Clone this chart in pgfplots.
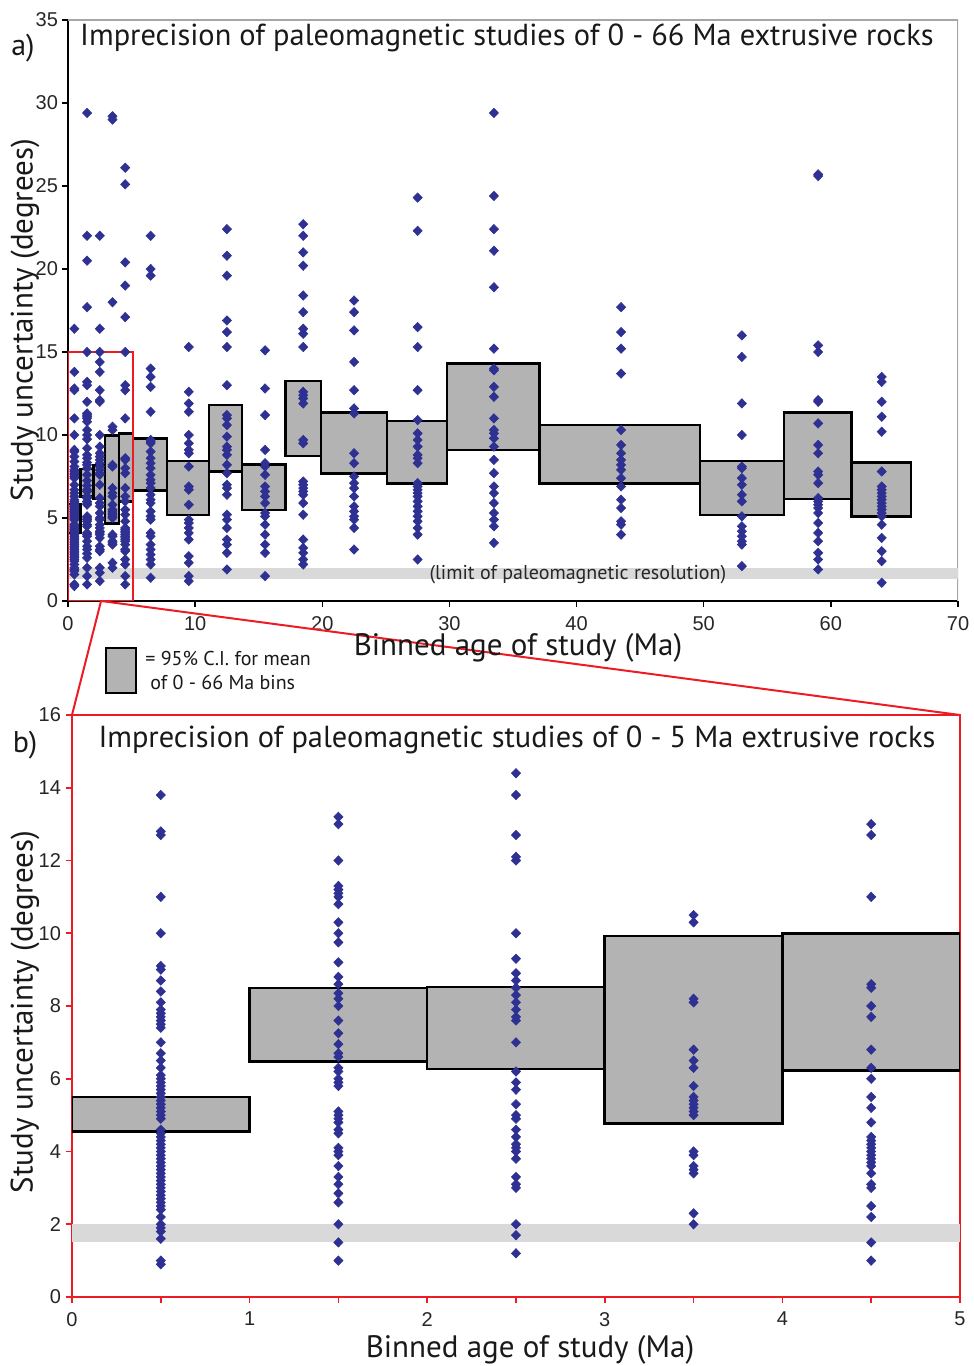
\documentclass[border=0pt]{standalone}
\usepackage{pgfplots}
\pgfplotsset{compat=1.18}
\usepackage{pgfplotstable}
\usepackage{fontspec}
\setmainfont{PT Sans}
\newfontfamily\tickfont{Liberation Sans}
\definecolor{dblue}{HTML}{2E3192}
\definecolor{ared}{HTML}{ED1C24}
\definecolor{boxgray}{HTML}{B3B3B3}
\definecolor{bandgray}{HTML}{D9D9D9}

% 0-5 Ma columns (shown in both panels)
\pgfplotstableread[row sep=\\]{y\\13.8\\12.8\\12.7\\11.0\\10.0\\9.1\\9.0\\8.7\\8.4\\8.1\\7.9\\7.8\\7.7\\7.6\\7.5\\7.4\\7.0\\6.7\\6.5\\6.3\\6.1\\6.0\\5.9\\5.8\\5.7\\5.6\\5.5\\5.4\\5.3\\5.2\\5.1\\5.0\\4.9\\4.6\\4.5\\4.4\\4.3\\4.2\\4.1\\4.0\\3.9\\3.8\\3.7\\3.6\\3.5\\3.4\\3.3\\3.2\\3.1\\3.0\\2.9\\2.8\\2.7\\2.6\\2.5\\2.4\\2.2\\2.0\\1.9\\1.8\\1.6\\1.0\\0.9\\}\lowA
\pgfplotstableread[row sep=\\]{y\\13.2\\13.0\\12.0\\11.3\\11.2\\11.1\\11.0\\10.8\\10.3\\10.0\\9.75\\9.2\\8.8\\8.6\\8.35\\8.2\\8.0\\7.6\\7.25\\6.95\\6.7\\6.6\\6.3\\6.2\\6.0\\5.9\\5.8\\5.1\\5.0\\4.9\\4.8\\4.6\\4.5\\4.1\\4.0\\3.9\\3.6\\3.3\\3.1\\2.85\\2.6\\2.0\\1.5\\1.0\\}\lowB
\pgfplotstableread[row sep=\\]{y\\14.4\\13.8\\12.7\\12.1\\12.0\\10.0\\9.3\\8.9\\8.7\\8.5\\8.3\\8.1\\7.9\\7.7\\7.6\\7.0\\6.2\\5.9\\5.7\\5.3\\5.0\\4.9\\4.6\\4.4\\4.2\\4.1\\4.0\\3.8\\3.3\\3.1\\3.0\\2.0\\1.7\\1.2\\}\lowC
\pgfplotstableread[row sep=\\]{y\\10.5\\10.3\\8.2\\8.1\\6.8\\6.5\\6.3\\5.8\\5.5\\5.4\\5.3\\5.2\\5.1\\5.0\\4.0\\3.9\\3.6\\3.5\\3.4\\2.3\\2.0\\}\lowD
\pgfplotstableread[row sep=\\]{y\\13.0\\12.7\\11.0\\8.6\\8.5\\8.0\\7.7\\6.8\\6.3\\6.0\\5.5\\5.2\\4.8\\4.4\\4.3\\4.2\\4.1\\4.0\\3.9\\3.8\\3.7\\3.6\\3.4\\3.1\\3.0\\2.5\\2.2\\1.5\\1.0\\}\lowE
% higher values of the 0-5 Ma columns (top panel only)
\pgfplotstableread[row sep=\\]{y\\16.4\\}\hiA
\pgfplotstableread[row sep=\\]{y\\29.4\\22.0\\20.5\\17.7\\15.0\\}\hiB
\pgfplotstableread[row sep=\\]{y\\22.0\\16.4\\15.0\\}\hiC
\pgfplotstableread[row sep=\\]{y\\29.2\\29.0\\18.0\\}\hiD
\pgfplotstableread[row sep=\\]{y\\26.1\\25.1\\20.4\\19.0\\17.1\\15.0\\}\hiE
% older bins (top panel only)
\pgfplotstableread[row sep=\\]{y\\22.0\\20.0\\19.6\\14.0\\13.5\\12.9\\11.4\\9.7\\9.6\\9.5\\9.0\\8.6\\8.3\\8.0\\7.6\\7.3\\7.1\\6.8\\6.4\\6.1\\5.9\\5.4\\5.1\\4.9\\4.1\\3.9\\3.4\\3.1\\2.8\\2.5\\2.2\\1.4\\}\cF
\pgfplotstableread[row sep=\\]{y\\15.3\\12.6\\11.9\\11.4\\10.0\\9.5\\9.1\\8.9\\8.1\\6.9\\6.7\\5.8\\4.9\\4.7\\4.4\\4.1\\3.7\\2.7\\2.3\\1.5\\1.2\\}\cG
\pgfplotstableread[row sep=\\]{y\\22.4\\20.8\\19.6\\16.9\\16.2\\15.3\\13.0\\11.2\\11.0\\10.6\\9.9\\9.3\\9.1\\8.8\\8.2\\7.7\\7.0\\6.8\\6.4\\5.2\\4.9\\4.4\\3.7\\3.4\\2.9\\1.9\\}\cH
\pgfplotstableread[row sep=\\]{y\\15.1\\12.8\\11.2\\9.1\\8.3\\8.1\\7.6\\6.9\\6.6\\6.3\\5.9\\5.3\\5.1\\4.6\\4.0\\3.4\\2.9\\1.5\\}\cI
\pgfplotstableread[row sep=\\]{y\\22.7\\22.0\\21.0\\20.2\\18.4\\17.4\\16.4\\16.1\\15.3\\12.6\\12.4\\12.2\\11.9\\9.7\\9.5\\7.2\\7.0\\6.8\\6.6\\6.4\\5.9\\5.2\\3.7\\3.2\\2.9\\2.5\\2.2\\}\cJ
\pgfplotstableread[row sep=\\]{y\\18.1\\17.4\\16.3\\14.4\\12.7\\11.6\\11.3\\8.9\\8.3\\7.5\\7.1\\6.8\\6.3\\5.7\\5.4\\5.1\\4.9\\4.4\\3.1\\}\cK
\pgfplotstableread[row sep=\\]{y\\24.3\\22.3\\16.5\\15.3\\12.7\\10.9\\10.1\\9.7\\9.3\\8.8\\8.6\\8.3\\7.1\\6.9\\6.7\\6.5\\6.3\\6.0\\5.7\\5.4\\5.1\\4.8\\4.4\\4.0\\2.5\\}\cL
\pgfplotstableread[row sep=\\]{y\\29.4\\24.4\\22.4\\21.1\\18.9\\15.2\\14.0\\13.9\\12.9\\12.3\\11.0\\10.3\\10.1\\9.8\\9.3\\8.5\\7.7\\6.9\\6.5\\5.9\\5.3\\4.9\\4.5\\3.5\\}\cM
\pgfplotstableread[row sep=\\]{y\\17.7\\16.2\\15.2\\13.7\\10.3\\9.4\\8.9\\8.5\\8.2\\7.9\\7.4\\6.9\\6.1\\5.6\\4.8\\4.6\\4.0\\}\cN
\pgfplotstableread[row sep=\\]{y\\16.0\\14.7\\11.9\\10.0\\8.1\\8.0\\7.4\\7.0\\6.4\\6.0\\5.1\\4.5\\4.2\\3.9\\3.6\\3.4\\2.1\\}\cO
\pgfplotstableread[row sep=\\]{y\\25.7\\25.6\\15.4\\15.0\\12.1\\12.0\\10.7\\9.4\\8.9\\7.8\\7.6\\7.1\\6.2\\6.0\\5.8\\5.6\\5.3\\4.7\\4.1\\3.6\\2.9\\2.5\\1.9\\}\cP
\pgfplotstableread[row sep=\\]{y\\13.5\\13.2\\12.0\\11.1\\10.2\\7.8\\6.9\\6.7\\6.5\\6.3\\6.1\\5.9\\5.7\\5.5\\5.3\\5.1\\4.6\\3.8\\3.0\\2.4\\1.1\\}\cQ

\pgfplotsset{
  pts/.style={only marks, mark=diamond*, mark size=2.35pt,
    mark options={draw=dblue, fill=dblue, line width=0.3pt, xscale=1.3}},
  cibox/.style={draw=black, fill=boxgray, line width=1.3pt},
  band/.style={draw=none, fill=bandgray},
}

\begin{document}
\begin{tikzpicture}
\path[use as bounding box] (0,0) rectangle (487pt,683pt);

% ---------------- top panel ----------------
\begin{axis}[
  at={(34pt,382.5pt)}, anchor=south west, scale only axis,
  width=445pt, height=290.5pt,
  xmin=0, xmax=70, ymin=0, ymax=35,
  xtick={0,10,...,70}, ytick={0,5,...,35},
  axis x line*=bottom, axis y line*=left,
  axis line style={-, black, line width=0.8pt},
  tick align=outside, major tick length=3pt,
  tick style={black, line width=0.7pt},
  ticklabel style={font=\tickfont\fontsize{10}{11}\selectfont, text=black!85},
  /pgf/number format/assume math mode=true,
  xticklabel style={yshift=-1pt},
  yticklabel style={xshift=1.5pt},
]
\draw[gray!70, line width=0.7pt] (rel axis cs:0,1) -- (rel axis cs:1,1) -- (rel axis cs:1,0);
\addplot[band] coordinates {(0,1.3) (70,1.3) (70,2.0) (0,2.0)} -- cycle;
\node[font=\fontsize{10}{11}\selectfont, text=black!85] at (axis cs:40.1,1.6) {(limit of paleomagnetic resolution)};
\addplot[cibox] coordinates {(0,4.1) (1,4.1) (1,5.85) (0,5.85)} -- cycle;
\addplot[cibox] coordinates {(1,6.28) (2,6.28) (2,7.95) (1,7.95)} -- cycle;
\addplot[cibox] coordinates {(2,6.19) (2.9,6.19) (2.9,8.15) (2,8.15)} -- cycle;
\addplot[cibox] coordinates {(2.9,4.68) (4,4.68) (4,9.96) (2.9,9.96)} -- cycle;
\addplot[cibox] coordinates {(4,6.0) (5.1,6.0) (5.1,10.1) (4,10.1)} -- cycle;
\addplot[cibox] coordinates {(5.1,6.65) (7.8,6.65) (7.8,9.8) (5.1,9.8)} -- cycle;
\addplot[cibox] coordinates {(7.8,5.18) (11.1,5.18) (11.1,8.43) (7.8,8.43)} -- cycle;
\addplot[cibox] coordinates {(11.1,7.79) (13.7,7.79) (13.7,11.81) (11.1,11.81)} -- cycle;
\addplot[cibox] coordinates {(13.7,5.48) (17.1,5.48) (17.1,8.23) (13.7,8.23)} -- cycle;
\addplot[cibox] coordinates {(17.1,8.73) (19.9,8.73) (19.9,13.25) (17.1,13.25)} -- cycle;
\addplot[cibox] coordinates {(19.9,7.69) (25.1,7.69) (25.1,11.37) (19.9,11.37)} -- cycle;
\addplot[cibox] coordinates {(25.1,7.09) (29.8,7.09) (29.8,10.84) (25.1,10.84)} -- cycle;
\addplot[cibox] coordinates {(29.8,9.1) (37.1,9.1) (37.1,14.32) (29.8,14.32)} -- cycle;
\addplot[cibox] coordinates {(37.1,7.09) (49.7,7.09) (49.7,10.6) (37.1,10.6)} -- cycle;
\addplot[cibox] coordinates {(49.7,5.18) (56.3,5.18) (56.3,8.43) (49.7,8.43)} -- cycle;
\addplot[cibox] coordinates {(56.3,6.14) (61.6,6.14) (61.6,11.37) (56.3,11.37)} -- cycle;
\addplot[cibox] coordinates {(61.6,5.08) (66.3,5.08) (66.3,8.33) (61.6,8.33)} -- cycle;
\addplot[pts] table[x expr=0.5, y=y] {\lowA};
\addplot[pts] table[x expr=1.5, y=y] {\lowB};
\addplot[pts] table[x expr=2.5, y=y] {\lowC};
\addplot[pts] table[x expr=3.5, y=y] {\lowD};
\addplot[pts] table[x expr=4.5, y=y] {\lowE};
\addplot[pts] table[x expr=0.5, y=y] {\hiA};
\addplot[pts] table[x expr=1.5, y=y] {\hiB};
\addplot[pts] table[x expr=2.5, y=y] {\hiC};
\addplot[pts] table[x expr=3.5, y=y] {\hiD};
\addplot[pts] table[x expr=4.5, y=y] {\hiE};
\addplot[pts] table[x expr=6.5, y=y] {\cF};
\addplot[pts] table[x expr=9.5, y=y] {\cG};
\addplot[pts] table[x expr=12.5, y=y] {\cH};
\addplot[pts] table[x expr=15.5, y=y] {\cI};
\addplot[pts] table[x expr=18.5, y=y] {\cJ};
\addplot[pts] table[x expr=22.5, y=y] {\cK};
\addplot[pts] table[x expr=27.5, y=y] {\cL};
\addplot[pts] table[x expr=33.5, y=y] {\cM};
\addplot[pts] table[x expr=43.5, y=y] {\cN};
\addplot[pts] table[x expr=53.0, y=y] {\cO};
\addplot[pts] table[x expr=59.0, y=y] {\cP};
\addplot[pts] table[x expr=64.0, y=y] {\cQ};
\draw[ared, line width=1pt] (axis cs:0,0) rectangle (axis cs:5.1,15);
\coordinate (zsrc) at (axis cs:2.6,0);
\end{axis}

% ---------------- bottom panel ----------------
\begin{axis}[
  at={(36pt,34.5pt)}, anchor=south west, scale only axis,
  width=444pt, height=291pt,
  xmin=0, xmax=5, ymin=0, ymax=16,
  xtick={0,1,...,5}, minor x tick num=1, ytick={0,2,...,16},
  axis line style={ared, line width=1pt},
  tick align=outside, major tick length=3pt, minor tick length=3pt,
  every tick/.style={ared, line width=0.8pt},
  xtick pos=bottom, ytick pos=left,
  ticklabel style={font=\tickfont\fontsize{10}{11}\selectfont, text=black!85},
  /pgf/number format/assume math mode=true,
  xticklabel style={yshift=-1pt},
  yticklabel style={xshift=1pt},
]
\addplot[band] coordinates {(0,1.5) (5,1.5) (5,2.0) (0,2.0)} -- cycle;
\addplot[cibox] coordinates {(0,4.55) (1,4.55) (1,5.5) (0,5.5)} -- cycle;
\addplot[cibox] coordinates {(1,6.47) (2,6.47) (2,8.49) (1,8.49)} -- cycle;
\addplot[cibox] coordinates {(2,6.27) (3,6.27) (3,8.52) (2,8.52)} -- cycle;
\addplot[cibox] coordinates {(3,4.77) (4,4.77) (4,9.92) (3,9.92)} -- cycle;
\addplot[cibox] coordinates {(4,6.22) (5,6.22) (5,10.0) (4,10.0)} -- cycle;
\addplot[pts] table[x expr=0.5, y=y] {\lowA};
\addplot[pts] table[x expr=1.5, y=y] {\lowB};
\addplot[pts] table[x expr=2.5, y=y] {\lowC};
\addplot[pts] table[x expr=3.5, y=y] {\lowD};
\addplot[pts] table[x expr=4.5, y=y] {\lowE};
\coordinate (bnw) at (rel axis cs:0,1);
\coordinate (bne) at (rel axis cs:1,1);
\end{axis}

\draw[ared, line width=1pt] (zsrc) -- (bnw);
\draw[ared, line width=1pt] (zsrc) -- (bne);

% texts
\node[font=\fontsize{15.2}{17}\selectfont, text=black!90] at (253.5pt,664pt) {Imprecision of paleomagnetic studies of 0 - 66 Ma extrusive rocks};
\node[font=\fontsize{15.2}{17}\selectfont, text=black!90] at (258.5pt,313pt) {Imprecision of paleomagnetic studies of 0 - 5 Ma extrusive rocks};
\node[font=\fontsize{15.5}{17}\selectfont, text=black!90] at (259pt,359pt) {Binned age of study (Ma)};
\node[font=\fontsize{15.5}{17}\selectfont, text=black!90] at (265pt,8pt) {Binned age of study (Ma)};
\node[font=\fontsize{15.5}{17}\selectfont, text=black!90, rotate=90] at (12.5pt,523pt) {Study uncertainty (degrees)};
\node[font=\fontsize{15.5}{17}\selectfont, text=black!90, rotate=90] at (12.5pt,177pt) {Study uncertainty (degrees)};
\node[font=\fontsize{15}{17}\selectfont, text=black!90] at (11.5pt,659pt) {a)};
\node[font=\fontsize{15}{17}\selectfont, text=black!90] at (12.5pt,310.5pt) {b)};
% legend
\draw[line width=1.3pt, fill=boxgray] (53pt,336.5pt) rectangle (68pt,359pt);
\node[anchor=west, font=\fontsize{10}{11}\selectfont, text=black!90, inner sep=0pt] at (72.5pt,354pt) {= 95\% C.I. for mean};
\node[anchor=west, font=\fontsize{10}{11}\selectfont, text=black!90, inner sep=0pt] at (75pt,341.5pt) {of 0 - 66 Ma bins};
\end{tikzpicture}
\end{document}
